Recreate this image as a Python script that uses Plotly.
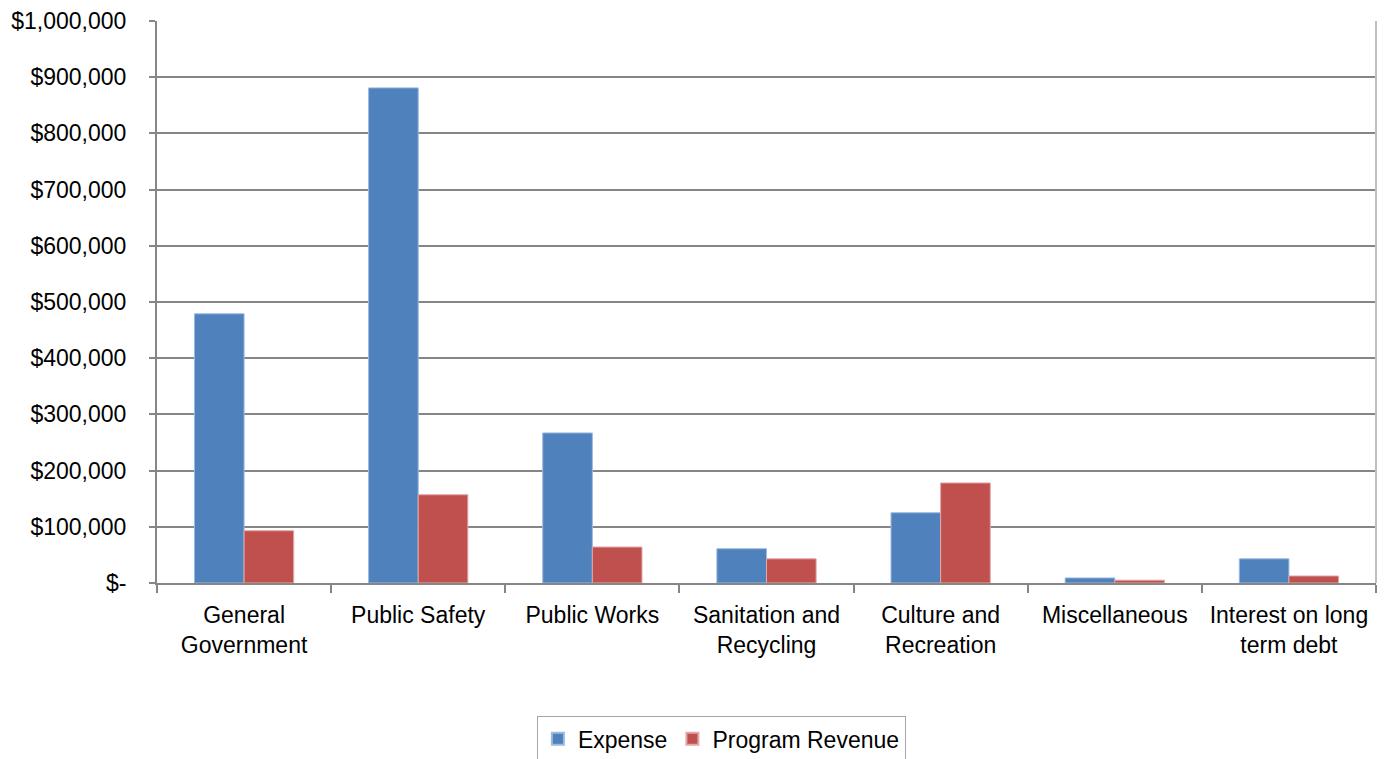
import plotly.graph_objects as go

categories = ["General<br>Government", "Public Safety", "Public Works",
              "Sanitation and<br>Recycling", "Culture and<br>Recreation",
              "Miscellaneous", "Interest on long<br>term debt"]
expense = [479000, 881000, 267000, 61000, 125000, 9000, 43000]
program_revenue = [93000, 157000, 64000, 43000, 178000, 5000, 12500]

y_tick_vals = [0, 100000, 200000, 300000, 400000, 500000, 600000, 700000, 800000, 900000, 1000000]
y_tick_text = ["$-", "$100,000", "$200,000", "$300,000", "$400,000", "$500,000",
               "$600,000", "$700,000", "$800,000", "$900,000", "$1,000,000"]

FONT = "Liberation Sans, Arial, sans-serif"

fig = go.Figure()
fig.add_trace(go.Bar(name="Expense", x=categories, y=expense,
                     marker=dict(color="#4F81BD", line=dict(color="#9DB9DD", width=1))))
fig.add_trace(go.Bar(name="Program Revenue", x=categories, y=program_revenue,
                     marker=dict(color="#C0504D", line=dict(color="#E0A8A6", width=1))))

fig.update_layout(
    width=1379, height=751,
    margin=dict(l=149, r=11, t=13, b=176, autoexpand=False),
    paper_bgcolor="white", plot_bgcolor="white",
    barmode="group", bargap=0.43, bargroupgap=0,
    font=dict(family=FONT, size=23, color="#000000"),
    showlegend=True,
    legend=dict(orientation="h", x=0.463, xanchor="center", y=-0.237, yanchor="top",
                bordercolor="#A6A6A6", borderwidth=1, bgcolor="white",
                font=dict(family=FONT, size=23, color="#000000"),
                itemsizing="constant", tracegroupgap=0),
)
fig.update_xaxes(
    type="category", showgrid=False, showline=True, linecolor="#868686", linewidth=2,
    ticks="outside", tickson="boundaries", ticklen=8, tickcolor="#868686", tickwidth=2,
    tickfont=dict(family=FONT, size=23, color="#000000"), automargin=False,
    ticklabelstandoff=10,
)
fig.update_yaxes(
    range=[0, 1000000], tickvals=y_tick_vals, ticktext=y_tick_text,
    showgrid=True, gridcolor="#868686", gridwidth=2,
    showline=True, linecolor="#868686", linewidth=2,
    ticks="outside", ticklen=6, tickcolor="#868686", tickwidth=2,
    zeroline=False, tickfont=dict(family=FONT, size=23, color="#000000"),
    automargin=False, ticklabelstandoff=18,
)
fig.add_shape(type="line", xref="paper", yref="paper", x0=1, x1=1, y0=0, y1=1,
              line=dict(color="#BFBFBF", width=2))

fig.write_html("out.html")
